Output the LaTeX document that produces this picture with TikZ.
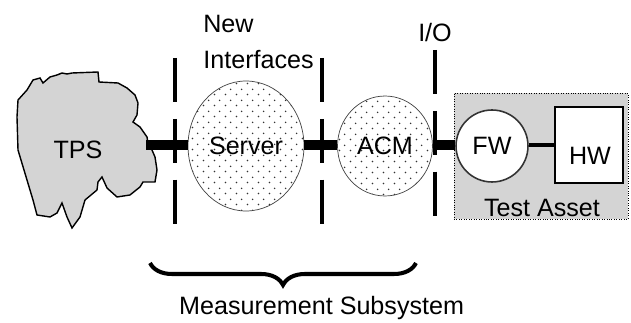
\documentclass[tikz,border=0pt]{standalone}
\usepackage{fontspec}
\setmainfont{Liberation Sans}
\usepackage{tikz}
\usetikzlibrary{arrows.meta,positioning,calc,shapes.geometric,decorations.pathreplacing,patterns.meta}
\definecolor{cloudfill}{HTML}{D4D4D4}
\definecolor{assetfill}{HTML}{D4D4D4}

\tikzdeclarepattern{
  name=sparsedots,
  type=uncolored,
  bounding box={(0pt,0pt) and (6pt,6pt)},
  tile size={(6pt,6pt)},
  code={
    \pgfpathcircle{\pgfpoint{1.5pt}{1.5pt}}{0.5pt}
    \pgfpathcircle{\pgfpoint{4.5pt}{4.5pt}}{0.5pt}
    \pgfusepath{fill}
  }
}

\begin{document}
\begin{tikzpicture}[x=0.02cm, y=-0.02cm,
  every node/.style={font=\fontsize{14.3}{20.4}\selectfont},
  dotball/.style={ellipse, draw=black!75, thin, inner sep=0pt, pattern=sparsedots, pattern color=black!80},
  fwball/.style={circle, draw=black!80, line width=0.9pt, fill=white, inner sep=0pt},
  hwbox/.style={rectangle, draw, line width=1.3pt, fill=white, inner sep=0pt},
  assetbox/.style={rectangle, draw, densely dotted, fill=assetfill, inner sep=0pt},
  link/.style={line width=6pt},
  thinlink/.style={line width=2.8pt},
  sepline/.style={line width=2.3pt, dash pattern=on 25pt off 9.6pt},
  brace/.style={decorate, decoration={brace, mirror, amplitude=0.44cm}, line width=2.3pt}
]
  \useasboundingbox (0,0) rectangle (631,323);

  % TPS cloud
  \draw[fill=cloudfill, line width=0.8pt] (18,100) -- (27,90) -- (33,80) -- (40,78) -- (43,83) -- (50,77)
    -- (57,75) -- (62,73) -- (67,74) -- (72,73) -- (98,72) -- (99,82) -- (118,83) -- (127,88)
    -- (135,95) -- (138,103) -- (137,115) -- (133,122) -- (140,127) -- (147,137) -- (148,143)
    -- (152,150) -- (155,157) -- (157,170) -- (155,182) -- (143,182) -- (140,187) -- (130,195)
    -- (117,197) -- (107,188) -- (102,177) -- (98,182) -- (97,190) -- (85,200) -- (80,217)
    -- (72,228) -- (67,217) -- (62,203) -- (57,213) -- (50,217) -- (37,215) -- (33,200)
    -- (27,180) -- (18,150) -- (17,117) -- cycle;
  \node (tps) at (78,150) {TPS};
  \coordinate (tpsedge) at (146,145);

  % measurement subsystem
  \node[dotball, minimum width=2.32cm, minimum height=2.6cm] (server) at (246,146) {Server};
  \node[dotball, minimum width=1.9cm, minimum height=2.0cm] (acm) at (385,146) {ACM};

  % test asset
  \node[assetbox, minimum width=3.48cm, minimum height=2.52cm] (asset) at (541,156) {};
  \node[anchor=base] (assetlabel) at (542,217) {Test Asset};
  \node[fwball, minimum size=1.44cm] (fw) at (492,146) {FW};
  \node[hwbox, minimum width=1.36cm, minimum height=1.52cm] (hw) at (589,145) {};
  \node (hwlabel) at (590,156) {HW};

  % interface lines
  \coordinate (sepa1) at (175,58);  \coordinate (sepa2) at (175,225);
  \coordinate (sepb1) at (322,58);  \coordinate (sepb2) at (322,225);
  \coordinate (sepc1) at (435,50);  \coordinate (sepc2) at (435,220);
  \draw[sepline] (sepa1) -- (sepa2);
  \draw[sepline] (sepb1) -- (sepb2);
  \draw[sepline] (sepc1) -- (sepc2);

  \node[anchor=north west, align=left, inner sep=0pt] (newif) at (203,15) {New\\Interfaces};
  \node[anchor=base] (io) at (435,42) {I/O};

  \draw[link] (tpsedge) -- (server.west |- tpsedge);
  \draw[link] (server.east |- tpsedge) -- (acm.west |- tpsedge);
  \draw[link] (acm.east |- tpsedge) -- (fw.west |- tpsedge);
  \draw[thinlink] (fw.east |- tpsedge) -- (hw.west |- tpsedge);

  % brace
  \coordinate (bracel) at (150,263);
  \coordinate (bracer) at (416,263);
  \draw[brace] (bracel) -- (bracer);
  \node[anchor=base west] (meas) at (173,315) {Measurement Subsystem};
\end{tikzpicture}
\end{document}
